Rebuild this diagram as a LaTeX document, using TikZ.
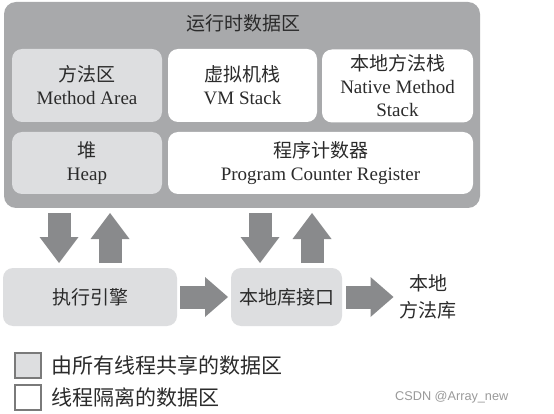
\documentclass[tikz,border=0pt]{standalone}
\usepackage{fontspec}
\setmainfont{Liberation Serif}
\newfontfamily\cjk{Noto Sans CJK SC}
\newfontfamily\wm{Liberation Sans}
\usetikzlibrary{arrows.meta}
\definecolor{outergray}{HTML}{A8A9AB}
\definecolor{lightbox}{HTML}{DDDEE0}
\definecolor{arrowgray}{HTML}{898A8C}
\definecolor{txt}{HTML}{2B2B2B}
\definecolor{wmgray}{HTML}{9A9A9A}
\definecolor{legline}{HTML}{7A7A7A}
\begin{document}
\begin{tikzpicture}[x=1pt,y=-1pt,
  box/.style={rounded corners=10pt, outer sep=0pt, inner sep=0pt, align=center, text=txt, font=\fontsize{19}{23}\selectfont},
  shared/.style={box, fill=lightbox},
  isolated/.style={box, fill=white},
  vblock/.style={draw=arrowgray, line width=23pt, -{Triangle[width=39pt,length=26pt,line width=0pt]}, shorten <=5pt, shorten >=5pt},
  hblock/.style={draw=arrowgray, line width=23pt, -{Triangle[width=40pt,length=23pt,line width=0pt]}},
  legbox/.style={draw=legline, line width=1.2pt, minimum width=26pt, minimum height=25pt, inner sep=0pt, outer sep=0pt},
  cjktext/.style={text=txt, inner sep=0pt, outer sep=0pt, align=center}
]
\useasboundingbox (0,0) rectangle (554,414);
\fill[white] (0,0) rectangle (554,414);

% runtime data area
\node[fill=outergray, rounded corners=12pt, minimum width=476pt, minimum height=206pt, inner sep=0pt, outer sep=0pt] (runtime) at (242,105) {};
\node[cjktext, font=\cjk\fontsize{19}{23}\selectfont] (title) at (243,23) {运行时数据区};

\node[shared, minimum width=150pt, minimum height=73pt] (ma) at (87,85.5) {{\cjk 方法区}\\Method Area};
\node[isolated, minimum width=149pt, minimum height=73pt] (vm) at (242.5,85.5) {{\cjk 虚拟机栈}\\VM Stack};
\node[isolated, minimum width=151pt, minimum height=73pt] (nm) at (397.5,86) {{\cjk 本地方法栈}\\Native Method\\Stack};
\node[shared, minimum width=150pt, minimum height=62pt] (heap) at (87,163) {{\cjk 堆}\\Heap};
\node[isolated, minimum width=305pt, minimum height=62pt] (pc) at (320.5,163) {{\cjk 程序计数器}\\Program Counter Register};

% bottom row
\node[shared, minimum width=174pt, minimum height=58pt, font=\cjk\fontsize{19}{23}\selectfont] (engine) at (90,297) {执行引擎};
\node[shared, minimum width=111pt, minimum height=58pt, font=\cjk\fontsize{19}{23}\selectfont] (jni) at (286.5,297) {本地库接口};
\node[cjktext, font=\cjk\fontsize{19}{27}\selectfont] (lib) at (428,296.5) {本地\\方法库};

% vertical block arrows
\draw[vblock] (runtime.south -| 59,0) -- (engine.north -| 59,0);
\draw[vblock] (engine.north -| 110,0) -- (runtime.south -| 110,0);
\draw[vblock] (runtime.south -| 260,0) -- (jni.north -| 260,0);
\draw[vblock] (jni.north -| 312,0) -- (runtime.south -| 312,0);

% horizontal block arrows
\draw[hblock, shorten <=3pt, shorten >=3pt] (engine.east) -- (jni.west);
\draw[hblock, shorten <=4pt, shorten >=6pt] (jni.east) -- (jni.east -| lib.west);

% legend
\node[legbox, fill=lightbox] (l1) at (28,365.5) {};
\node[legbox, fill=white] (l2) at (28,397.5) {};
\node[cjktext, anchor=west, font=\cjk\fontsize{21}{23}\selectfont] (t1) at (51,365.5) {由所有线程共享的数据区};
\node[cjktext, anchor=west, font=\cjk\fontsize{21}{23}\selectfont] (t2) at (51,397.5) {线程隔离的数据区};

% watermark
\node[anchor=west, inner sep=0pt, text=wmgray, font=\wm\fontsize{12.7}{13}\selectfont] (wmark) at (395,397) {CSDN @Array\_new};
\end{tikzpicture}
\end{document}
